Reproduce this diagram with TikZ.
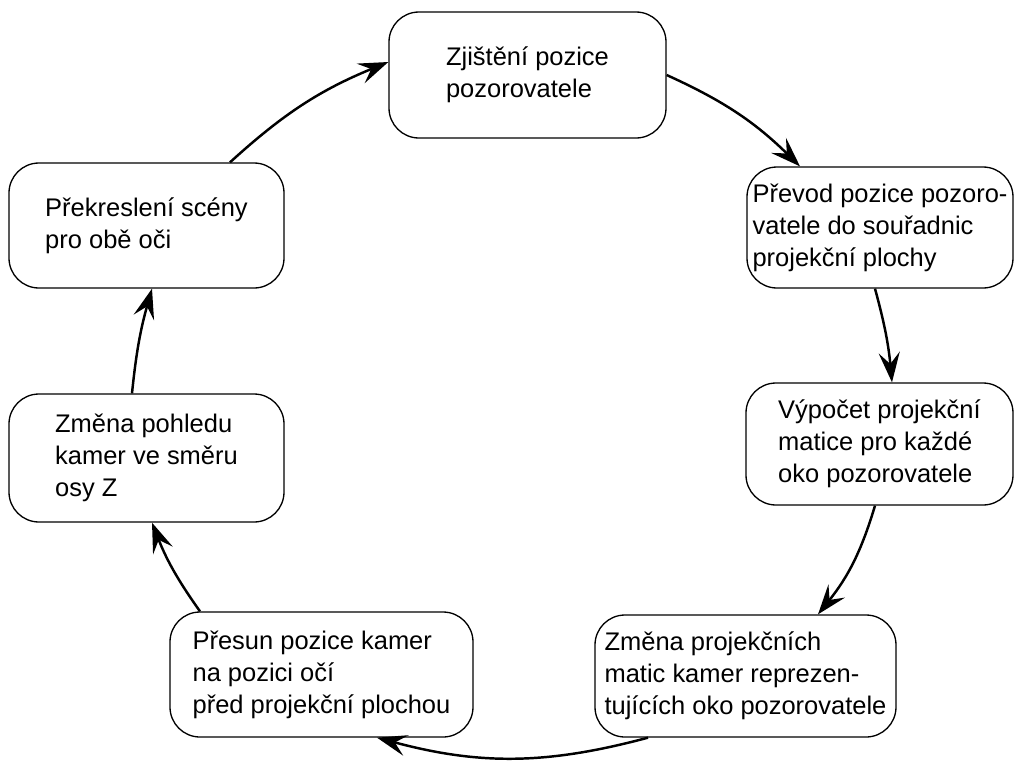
\documentclass[tikz,border=0pt]{standalone}
\usepackage{fontspec}
\setmainfont{Liberation Sans}
\usepackage{tikz}
\usetikzlibrary{arrows.meta}
\tikzset{stepbox/.style={draw=black, line width=0.75pt, rounded corners=0.6cm, align=left, inner sep=2pt, font=\fontsize{14.5pt}{18.2pt}\selectfont}}
\tikzset{flow/.style={line width=1.4pt, -{Stealth[length=17pt, width=12pt, inset=6.5pt]}}}

\begin{document}
\begin{tikzpicture}
	\useasboundingbox (0, 0) rectangle (20.28, -15.2);
	\node[stepbox, minimum width=5.54cm, minimum height=2.52cm] (zjisteni) at (10.55, -1.5)
		{Zjištění pozice\\pozorovatele};
	\node[stepbox, minimum width=5.32cm, minimum height=2.42cm] (prevod) at (17.6, -4.55)
		{Převod pozice pozoro-\\vatele do souřadnic\\projekční plochy};
	\node[stepbox, minimum width=5.34cm, minimum height=2.44cm] (vypocet) at (17.59, -8.88)
		{Výpočet projekční\\matice pro každé\\oko pozorovatele};
	\node[stepbox, minimum width=6.02cm, minimum height=2.44cm] (zmenamatic) at (14.91, -13.52)
		{Změna projekčních\\matic kamer reprezen-\\tujících oko pozorovatele};
	\node[stepbox, minimum width=6.06cm, minimum height=2.5cm] (presun) at (6.43, -13.49)
		{Přesun pozice kamer\\na pozici očí\\před projekční plochou};
	\node[stepbox, minimum width=5.5cm, minimum height=2.56cm] (pohled) at (2.93, -9.16)
		{Změna pohledu\\kamer ve směru\\osy Z};
	\node[stepbox, minimum width=5.5cm, minimum height=2.5cm] (prekresleni) at (2.93, -4.51)
		{Překreslení scény\\pro obě oči};

	\draw[flow] ([xshift=1.67cm]prekresleni.north) to[bend left=10] ([yshift=0.26cm]zjisteni.west);
	\draw[flow] (zjisteni.east) to[bend left=10] ([xshift=-1.6cm]prevod.north);
	\draw[flow] ([xshift=-0.1cm]prevod.south) to[bend left=5] ([xshift=0.25cm]vypocet.north);
	\draw[flow] ([xshift=-0.09cm]vypocet.south) to[bend left=11] ([xshift=1.45cm]zmenamatic.north);
	\draw[flow] ([xshift=-1.95cm]zmenamatic.south) to[bend left=15] ([xshift=1.11cm]presun.south);
	\draw[flow] ([xshift=-2.43cm]presun.north) to[bend left=7] ([xshift=0.11cm]pohled.south);
	\draw[flow] ([xshift=-0.29cm]pohled.north) to[bend left=5] ([xshift=0.11cm]prekresleni.south);
\end{tikzpicture}
\end{document}
